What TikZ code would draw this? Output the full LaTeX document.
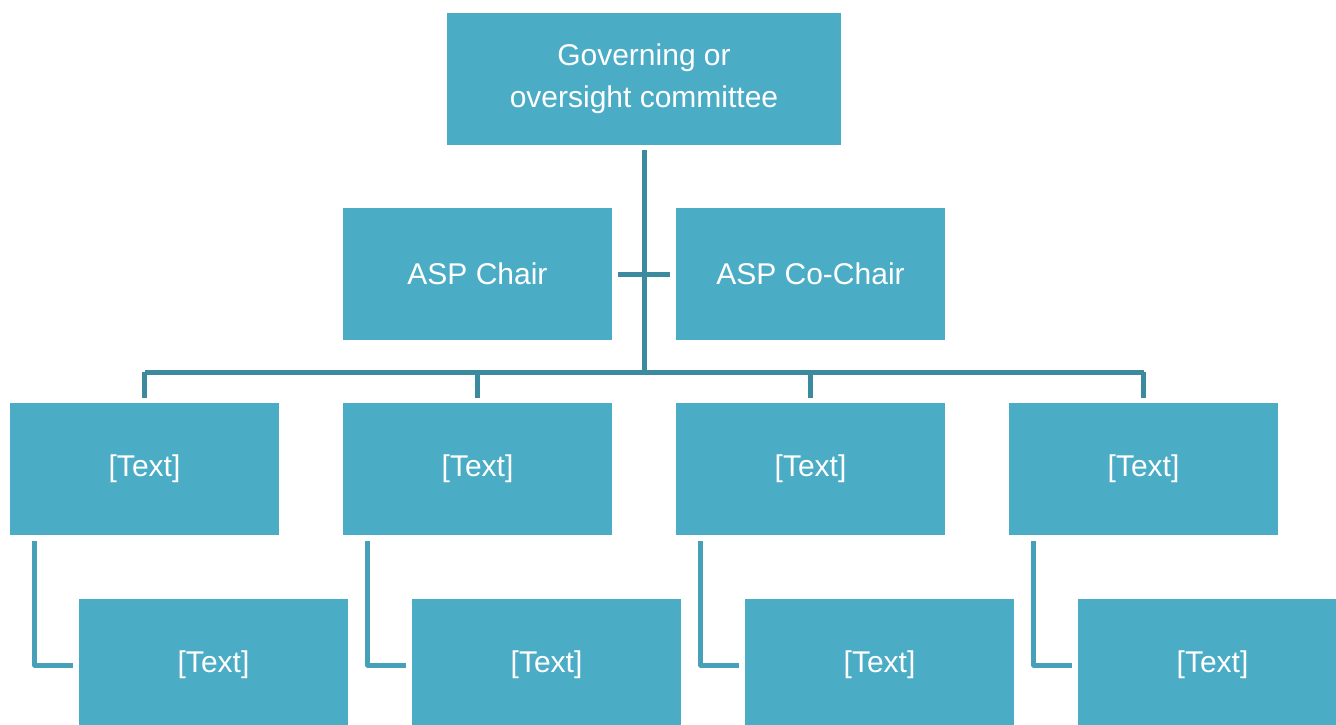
\documentclass[tikz,border=0pt]{standalone}
\usepackage{fontspec}
\setmainfont{Liberation Sans}
\usetikzlibrary{positioning}

\definecolor{boxfill}{HTML}{4BACC6}
\definecolor{treeline}{HTML}{3B8A9E}
\definecolor{sideline}{HTML}{46A0B8}

\tikzset{
    unit/.style={fill=boxfill, text=white, inner sep=0pt, align=center,
        minimum width=269pt, minimum height=132pt,
        font=\fontsize{30}{42}\selectfont},
    tree/.style={draw=treeline, line width=5pt},
    side/.style={draw=sideline, line width=5pt, line join=round}
}

\begin{document}
\begin{tikzpicture}[x=1pt, y=-1pt]
        \useasboundingbox[fill=white] (0,0) rectangle (1336,725);
        % top and chairs
        \node[unit, minimum width=394pt] (top) at (644,79) {Governing or\\oversight committee};
        \node[unit] (chair)   at (477.5,274) {ASP Chair};
        \node[unit] (cochair) at (810.5,274) {ASP Co-Chair};
        % second row
        \node[unit] (t1) at (144.5,469)  {[Text]};
        \node[unit] (t2) at (477.5,469)  {[Text]};
        \node[unit] (t3) at (810.5,469)  {[Text]};
        \node[unit] (t4) at (1143.5,469) {[Text]};
        % third row
        \node[unit] (s1) at (213.5,665)  {[Text]};
        \node[unit] (s2) at (546.5,665)  {[Text]};
        \node[unit] (s3) at (879.5,665)  {[Text]};
        \node[unit] (s4) at (1212.5,665) {[Text]};
        \coordinate (bus) at (644,372);
        \draw[tree] ([yshift=-5pt]top.south) -- (bus);
        \draw[tree] ([xshift=6pt]chair.east) -- ([xshift=-6pt]cochair.west);
        \draw[tree] (bus -| t1.north) -- (bus -| t4.north);
        \draw[tree] (bus -| t1.north) -- ([yshift=5pt]t1.north);
        \draw[tree] (bus -| t2.north) -- ([yshift=5pt]t2.north);
        \draw[tree] (bus -| t3.north) -- ([yshift=5pt]t3.north);
        \draw[tree] (bus -| t4.north) -- ([yshift=5pt]t4.north);
        % side links
        \draw[side] ([xshift=25pt,yshift=-6pt]t1.south west) |- ([xshift=-6pt]s1.west);
        \draw[side] ([xshift=25pt,yshift=-6pt]t2.south west) |- ([xshift=-6pt]s2.west);
        \draw[side] ([xshift=25pt,yshift=-6pt]t3.south west) |- ([xshift=-6pt]s3.west);
        \draw[side] ([xshift=25pt,yshift=-6pt]t4.south west) |- ([xshift=-6pt]s4.west);
    \end{tikzpicture}
\end{document}
